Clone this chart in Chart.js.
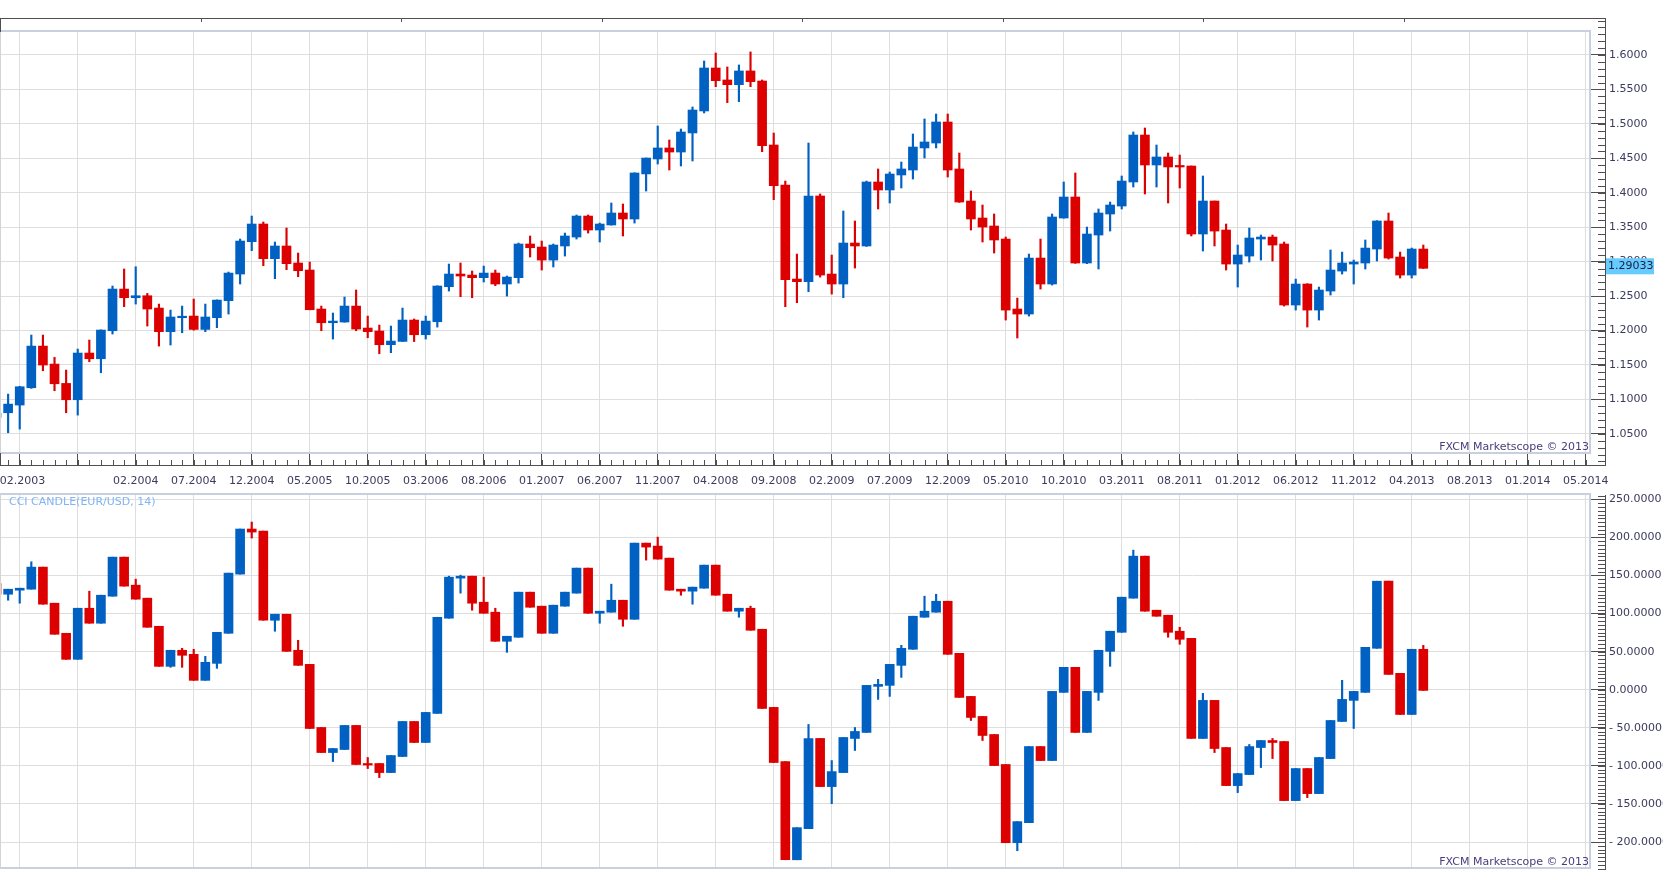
<!DOCTYPE html>
<html>
<head>
<meta charset="utf-8">
<title>EUR/USD monthly + CCI candle</title>
<script src="https://cdn.jsdelivr.net/npm/chart.js@4/dist/chart.umd.min.js"></script>
<style>
  body { margin: 0; background: #fff; overflow: hidden; }
  #wrap { position: relative; width: 1663px; height: 870px; }
  canvas { position: absolute; left: 0; }
</style>
</head>
<body>
<div id="wrap">
  <canvas id="priceChart" width="1663" height="490" style="top:0"></canvas>
  <canvas id="cciChart" width="1663" height="380" style="top:490px"></canvas>
</div>
<script>
// months, 02.2003 - 05.2013
var months = [
  '02.2003','03.2003','04.2003','05.2003','06.2003','07.2003','08.2003','09.2003','10.2003','11.2003','12.2003',
  '01.2004','02.2004','03.2004','04.2004','05.2004','06.2004','07.2004','08.2004','09.2004','10.2004','11.2004','12.2004',
  '01.2005','02.2005','03.2005','04.2005','05.2005','06.2005','07.2005','08.2005','09.2005','10.2005','11.2005','12.2005',
  '01.2006','02.2006','03.2006','04.2006','05.2006','06.2006','07.2006','08.2006','09.2006','10.2006','11.2006','12.2006',
  '01.2007','02.2007','03.2007','04.2007','05.2007','06.2007','07.2007','08.2007','09.2007','10.2007','11.2007','12.2007',
  '01.2008','02.2008','03.2008','04.2008','05.2008','06.2008','07.2008','08.2008','09.2008','10.2008','11.2008','12.2008',
  '01.2009','02.2009','03.2009','04.2009','05.2009','06.2009','07.2009','08.2009','09.2009','10.2009','11.2009','12.2009',
  '01.2010','02.2010','03.2010','04.2010','05.2010','06.2010','07.2010','08.2010','09.2010','10.2010','11.2010','12.2010',
  '01.2011','02.2011','03.2011','04.2011','05.2011','06.2011','07.2011','08.2011','09.2011','10.2011','11.2011','12.2011',
  '01.2012','02.2012','03.2012','04.2012','05.2012','06.2012','07.2012','08.2012','09.2012','10.2012','11.2012','12.2012',
  '01.2013','02.2013','03.2013','04.2013','05.2013'
];

// EUR/USD monthly OHLC
var priceOpen = [
  1.0740,1.0806,1.0918,1.1169,1.1774,1.1513,1.1232,1.0995,1.1673,1.1590,1.1997,
  1.2602,1.2476,1.2505,1.2326,1.1983,1.2186,1.2210,1.2016,1.2186,1.2433,1.2820,1.3290,
  1.3546,1.3043,1.3227,1.2980,1.2878,1.2312,1.2113,1.2123,1.2355,1.2036,1.1993,1.1794,
  1.1842,1.2152,1.1939,1.2128,1.2636,1.2820,1.2805,1.2767,1.2834,1.2675,1.2767,1.3256,
  1.3212,1.3023,1.3227,1.3357,1.3662,1.3459,1.3532,1.3706,1.3619,1.4273,1.4490,1.4650,
  1.4591,1.4868,1.5187,1.5811,1.5637,1.5569,1.5768,1.5622,1.4693,1.4112,1.2747,1.2709,
  1.3953,1.2820,1.2675,1.3270,1.3227,1.4156,1.4040,1.4258,1.4330,1.4650,1.4722,1.5027,
  1.4345,1.3880,1.3633,1.3517,1.3328,1.2312,1.2239,1.3052,1.2675,1.3633,1.3938,1.2980,
  1.3386,1.3691,1.3807,1.4156,1.4838,1.4403,1.4519,1.4393,1.4388,1.3401,1.3880,1.3459,
  1.2965,1.3081,1.3328,1.3357,1.3256,1.2370,1.2675,1.2297,1.2573,1.2863,1.2965,1.2980,
  1.3183,1.3590,1.3067,1.2805,1.3183
];
var priceHigh = [
  1.0930,1.1077,1.1190,1.1934,1.1934,1.1610,1.1426,1.1731,1.1862,1.2010,1.2646,
  1.2893,1.2926,1.2539,1.2384,1.2297,1.2355,1.2457,1.2384,1.2445,1.2849,1.3328,1.3662,
  1.3575,1.3285,1.3488,1.3125,1.2994,1.2355,1.2254,1.2486,1.2588,1.2210,1.2079,1.2065,
  1.2326,1.2167,1.2210,1.2650,1.2965,1.2980,1.2864,1.2936,1.2878,1.2791,1.3270,1.3372,
  1.3299,1.3256,1.3415,1.3677,1.3677,1.3560,1.3851,1.3837,1.4290,1.4505,1.4969,1.4766,
  1.4925,1.5245,1.5913,1.6029,1.5826,1.5855,1.6044,1.5637,1.4867,1.4170,1.3110,1.4722,
  1.3982,1.3096,1.3735,1.3590,1.4170,1.4345,1.4301,1.4446,1.4853,1.5071,1.5143,1.5143,
  1.4577,1.4025,1.3822,1.3691,1.3357,1.2471,1.3110,1.3328,1.3691,1.4156,1.4287,1.3502,
  1.3764,1.3865,1.4243,1.4882,1.4940,1.4693,1.4577,1.4548,1.4388,1.4243,1.3880,1.3546,
  1.3241,1.3488,1.3386,1.3386,1.3285,1.2747,1.2680,1.2631,1.3169,1.3139,1.3023,1.3314,
  1.3595,1.3706,1.3139,1.3197,1.3241
];
var priceLow = [
  1.0680,1.0516,1.0569,1.1160,1.1416,1.1126,1.0806,1.0772,1.1547,1.1387,1.1949,
  1.2346,1.2384,1.2065,1.1774,1.1789,1.1968,1.2005,1.1983,1.2041,1.2239,1.2675,1.3159,
  1.2941,1.2752,1.2883,1.2781,1.2300,1.1997,1.1876,1.2120,1.1997,1.1895,1.1663,1.1678,
  1.1840,1.1840,1.1876,1.2050,1.2573,1.2491,1.2476,1.2704,1.2651,1.2500,1.2689,1.3067,
  1.2878,1.2922,1.3081,1.3328,1.3415,1.3285,1.3530,1.3372,1.3560,1.4025,1.4417,1.4330,
  1.4388,1.4461,1.5158,1.5540,1.5308,1.5322,1.5540,1.4596,1.3899,1.2346,1.2404,1.2563,
  1.2776,1.2529,1.2476,1.2907,1.3220,1.3764,1.3851,1.4069,1.4199,1.4504,1.4650,1.4228,
  1.3860,1.3459,1.3285,1.3125,1.2152,1.1891,1.2210,1.2602,1.2660,1.3630,1.2975,1.2970,
  1.2893,1.3444,1.3764,1.4083,1.3982,1.4083,1.3851,1.4069,1.3372,1.3154,1.3227,1.2878,
  1.2631,1.2994,1.3023,1.3009,1.2355,1.2297,1.2050,1.2152,1.2515,1.2820,1.2675,1.2893,
  1.3009,1.3038,1.2762,1.2762,1.2900
];
var priceClose = [
  1.0800,1.0932,1.1184,1.1774,1.1499,1.1227,1.0995,1.1673,1.1590,1.2007,1.2602,
  1.2476,1.2505,1.2312,1.1983,1.2196,1.2206,1.2016,1.2196,1.2442,1.2834,1.3299,1.3546,
  1.3043,1.3227,1.2970,1.2868,1.2302,1.2113,1.2137,1.2355,1.2021,1.1983,1.1794,1.1847,
  1.2152,1.1939,1.2137,1.2646,1.2820,1.2791,1.2767,1.2834,1.2675,1.2776,1.3256,1.3202,
  1.3023,1.3241,1.3372,1.3662,1.3459,1.3546,1.3706,1.3619,1.4287,1.4504,1.4650,1.4591,
  1.4882,1.5201,1.5811,1.5627,1.5569,1.5768,1.5613,1.4683,1.4103,1.2738,1.2709,1.3953,
  1.2805,1.2675,1.3270,1.3227,1.4156,1.4040,1.4272,1.4345,1.4664,1.4737,1.5027,1.4330,
  1.3865,1.3619,1.3502,1.3314,1.2297,1.2239,1.3052,1.2675,1.3648,1.3938,1.2980,1.3401,
  1.3706,1.3822,1.4170,1.4838,1.4403,1.4519,1.4374,1.4374,1.3401,1.3880,1.3444,1.2965,
  1.3096,1.3343,1.3357,1.3241,1.2370,1.2675,1.2297,1.2588,1.2878,1.2980,1.2994,1.3197,
  1.3590,1.3052,1.2805,1.3183,1.29033
];

// CCI candle (EUR/USD, 14)
var cciOpen = [
  139.5,125.4,130.7,132.0,161.0,113.6,74.1,39.9,107.0,87.3,122.8,
  174.1,137.3,120.2,83.3,30.7,51.8,46.5,12.3,34.6,74.1,151.8,211.0,
  208.3,91.2,99.1,51.8,33.3,-49.6,-82.5,-78.5,-46.9,-96.9,-96.9,-108.8,
  -87.7,-41.7,-69.3,-31.1,93.9,146.5,149.1,114.9,101.8,63.6,68.9,128.1,
  109.7,74.1,109.7,126.8,159.7,100.4,101.8,117.5,92.5,192.5,188.6,172.8,
  132.0,129.4,133.3,163.6,125.4,103.1,107.0,79.4,-23.2,-94.3,-223.3,-182.5,
  -64.0,-127.2,-108.8,-64.0,-56.1,4.4,5.7,32.0,53.1,95.2,101.8,116.2,
  47.8,-8.8,-35.1,-58.8,-98.2,-200.9,-174.6,-74.6,-93.0,-3.5,29.4,-56.1,
  -3.5,50.4,75.4,120.2,175.4,104.4,97.8,76.8,67.5,-64.0,-14.0,-75.9,
  -125.9,-111.4,-75.9,-66.7,-68.0,-145.6,-103.5,-136.4,-90.4,-41.7,-14.0,-3.5,
  54.4,142.5,21.5,-32.5,53.1
];
var cciHigh = [
  139.5,132.0,133.3,168.0,161.0,113.6,74.1,107.0,129.4,124.1,174.1,
  174.1,145.2,120.2,83.3,51.8,54.4,53.1,43.9,75.4,153.1,211.0,220.2,
  208.3,99.1,99.1,64.9,33.3,-49.6,-77.2,-46.9,-46.9,-89.0,-96.9,-86.4,
  -41.7,-41.7,-29.8,95.2,149.1,150.4,149.1,147.8,107.0,70.2,128.1,128.1,
  109.7,111.0,128.1,159.7,159.7,103.1,138.6,117.5,192.5,192.5,200.4,172.8,
  132.0,134.7,163.6,163.6,125.4,107.0,109.7,79.4,-23.2,-94.3,-181.1,-45.6,
  -64.0,-93.0,-62.7,-49.6,5.7,13.6,33.3,58.3,96.5,122.8,125.4,116.2,
  47.8,-8.8,-35.1,-58.8,-98.2,-173.2,-74.6,-74.6,-2.2,29.4,29.4,-2.2,
  51.8,76.8,121.5,183.3,175.4,104.4,97.8,82.0,67.5,-4.8,-14.0,-75.9,
  -110.1,-71.9,-66.7,-64.0,-68.0,-103.5,-103.5,-89.0,-40.4,12.3,-2.2,55.7,
  142.5,142.5,21.5,53.1,58.3
];
var cciLow = [
  125.4,117.5,113.6,132.0,112.3,72.8,39.9,39.9,87.3,87.3,122.8,
  136.0,118.9,82.0,30.7,29.4,29.4,12.3,12.3,28.1,74.1,151.8,199.1,
  91.2,76.8,50.4,32.0,-50.9,-82.5,-94.3,-78.5,-98.2,-103.5,-115.4,-108.8,
  -87.7,-69.3,-69.3,-31.1,93.9,126.8,104.4,100.4,63.6,49.1,68.9,108.3,
  74.1,74.1,109.7,126.8,100.4,87.3,101.8,83.3,92.5,170.2,171.5,130.7,
  124.1,112.3,133.3,124.1,103.1,95.2,78.1,-24.6,-95.6,-223.3,-223.3,-182.5,
  -127.2,-149.6,-108.8,-79.8,-56.1,-12.7,-8.8,16.2,53.1,95.2,101.8,46.5,
  -10.1,-40.4,-66.7,-99.6,-200.9,-211.4,-174.6,-93.0,-93.0,-3.5,-56.1,-56.1,
  -14.0,30.7,75.4,120.2,103.1,96.5,68.9,59.7,-64.0,-64.0,-82.5,-125.9,
  -135.1,-111.4,-102.2,-90.4,-145.6,-145.6,-141.7,-136.4,-90.4,-41.7,-50.9,-3.5,
  54.4,20.2,-32.5,-32.5,-0.9
];
var cciClose = [
  125.4,132.0,133.3,161.0,112.3,72.8,39.9,107.0,87.3,124.1,174.1,
  136.0,118.9,82.0,30.7,51.8,45.2,12.3,36.0,75.4,153.1,211.0,207.0,
  91.2,99.1,50.4,32.0,-50.9,-82.5,-77.2,-46.9,-98.2,-98.2,-108.8,-86.4,
  -41.7,-69.3,-29.8,95.2,147.8,149.1,113.6,100.4,63.6,70.2,128.1,108.3,
  74.1,111.0,128.1,159.7,100.4,103.1,117.5,92.5,192.5,187.3,171.5,130.7,
  129.4,134.7,163.6,124.1,103.1,107.0,78.1,-24.6,-95.6,-223.3,-181.1,-64.0,
  -127.2,-107.5,-62.7,-54.8,5.7,7.0,33.3,54.4,96.5,103.1,116.2,46.5,
  -10.1,-36.4,-60.1,-99.6,-200.9,-173.2,-74.6,-93.0,-2.2,29.4,-56.1,-2.2,
  51.8,76.8,121.5,175.4,103.1,96.5,75.4,66.2,-64.0,-14.0,-77.2,-125.9,
  -110.1,-74.6,-66.7,-69.3,-145.6,-103.5,-136.4,-89.0,-40.4,-12.7,-2.2,55.7,
  142.5,20.2,-32.5,53.1,-0.9
];

// axis ticks
var priceTicks = [1.05, 1.10, 1.15, 1.20, 1.25, 1.30, 1.35, 1.40, 1.45, 1.50, 1.55, 1.60];
var cciTicks = [-200, -150, -100, -50, 0, 50, 100, 150, 200, 250];
var dateTickLabels = ['', '', '02.2004', '07.2004', '12.2004', '05.2005', '10.2005', '03.2006', '08.2006',
  '01.2007', '06.2007', '11.2007', '04.2008', '09.2008', '02.2009', '07.2009', '12.2009', '05.2010',
  '10.2010', '03.2011', '08.2011', '01.2012', '06.2012', '11.2012', '04.2013', '08.2013', '01.2014', '05.2014'];

var UP = '#0061c2';
var DOWN = '#dc0000';
var GRID = '#dedede';
var AXIS = '#4f4f4f';
var LABEL = '#3b3b5e';
var FONT = 'DejaVu Sans';

// x axis runs over month index (0 = 02.2003)
var X_MIN = 0.3, X_MAX = 137.37;
var FIRST_LABEL_POS = 2.24;   // where the "02.2003" label sits
var dateTickPos = dateTickLabels.map(function(l, k) { return 2 + 5 * k; });

Chart.defaults.font.family = FONT;
Chart.defaults.font.size = 11;
Chart.defaults.color = LABEL;

function candleData(o, h, l, c) {
  var bodies = [], wicks = [], colors = [];
  for (var i = 0; i < o.length; i++) {
    bodies.push({ x: i, y: [o[i], c[i]] });
    wicks.push({ x: i, y: [l[i], h[i]] });
    colors.push(c[i] >= o[i] ? UP : DOWN);
  }
  return [
    { label: 'body', data: bodies, backgroundColor: colors, barThickness: 9, minBarLength: 1.5, grouped: false, order: 0 },
    { label: 'wick', data: wicks, backgroundColor: colors, barThickness: 1.5, grouped: false, order: 1 }
  ];
}

function drawAxisFrame(chart, top, bottom, minorStep) {
  var ctx = chart.ctx, a = chart.chartArea, ys = chart.scales.y;
  var ax = 1605.5;
  ctx.save();
  // light plot border
  ctx.strokeStyle = '#c7d0dc';
  ctx.lineWidth = 2;
  ctx.beginPath();
  ctx.moveTo(a.left, a.top); ctx.lineTo(a.right, a.top);
  ctx.lineTo(a.right, a.bottom); ctx.lineTo(a.left, a.bottom);
  ctx.stroke();
  ctx.strokeStyle = '#d4d4d4';
  ctx.lineWidth = 1;
  ctx.beginPath(); ctx.moveTo(0.5, a.top); ctx.lineTo(0.5, a.bottom); ctx.stroke();
  // right axis line + minor ticks
  ctx.strokeStyle = AXIS;
  ctx.beginPath();
  ctx.moveTo(ax, top); ctx.lineTo(ax, bottom);
  var v0 = ys.getValueForPixel(bottom), v1 = ys.getValueForPixel(top);
  var start = Math.ceil(v0 / minorStep);
  for (var k = start; k * minorStep <= v1; k++) {
    var py = Math.round(ys.getPixelForValue(k * minorStep)) + 0.5;
    ctx.moveTo(1598, py); ctx.lineTo(ax, py);
  }
  ctx.stroke();
  ctx.restore();
}

function copyright(chart, y) {
  var ctx = chart.ctx;
  ctx.save();
  ctx.font = '11px ' + FONT;
  ctx.fillStyle = '#4a3c7a';
  ctx.textAlign = 'right';
  ctx.textBaseline = 'middle';
  ctx.fillText('FXCM Marketscope \u00a9 2013', 1589, y);
  ctx.restore();
}

var priceDecor = {
  id: 'priceDecor',
  afterDraw: function(chart) {
    var ctx = chart.ctx, xs = chart.scales.x, ys = chart.scales.y;
    drawAxisFrame(chart, 18, 466, 0.01);
    ctx.save();
    ctx.strokeStyle = AXIS;
    ctx.lineWidth = 1;
    ctx.beginPath();
    // navigator line on top
    ctx.moveTo(0, 18.5); ctx.lineTo(1605.5, 18.5);
    for (var x = 200.5; x < 1600; x += 200.5) {
      ctx.moveTo(Math.round(x) + 0.5, 18.5); ctx.lineTo(Math.round(x) + 0.5, 22);
    }
    ctx.moveTo(0.5, 18); ctx.lineTo(0.5, 32);
    ctx.moveTo(0.5, 453); ctx.lineTo(0.5, 466);
    // date axis line + month ticks
    ctx.moveTo(0, 465.5); ctx.lineTo(1605.5, 465.5);
    for (var i = 1; i <= 137; i++) {
      var px = Math.round(xs.getPixelForValue(i)) + 0.5;
      ctx.moveTo(px, 460); ctx.lineTo(px, 466);
    }
    ctx.stroke();

    // last price box
    var last = priceClose[priceClose.length - 1];
    var py = ys.getPixelForValue(last);
    ctx.fillStyle = '#66ccff';
    ctx.fillRect(1606, py - 10, 48, 16);
    ctx.fillStyle = '#1e1e3c';
    ctx.font = '11px ' + FONT;
    ctx.textBaseline = 'middle';
    ctx.textAlign = 'left';
    ctx.fillText(last.toFixed(5), 1608, py - 2);
    ctx.restore();
    copyright(chart, 447);
  }
};

var cciDecor = {
  id: 'cciDecor',
  afterDraw: function(chart) {
    var ctx = chart.ctx;
    drawAxisFrame(chart, 5, 380, 5);
    ctx.save();
    ctx.font = '11px ' + FONT;
    ctx.fillStyle = '#80b4f2';
    ctx.textBaseline = 'middle';
    ctx.fillText('CCI CANDLE(EUR/USD, 14)', 9, 12);
    ctx.restore();
    copyright(chart, 372);
  }
};

function hideFirst(color) {
  return function(c) {
    return c.tick && c.tick.value === FIRST_LABEL_POS ? 'rgba(0,0,0,0)' : color;
  };
}

function makeChart(id, datasets, opts) {
  return new Chart(document.getElementById(id), {
    type: 'bar',
    data: { datasets: datasets },
    options: {
      responsive: false,
      animation: false,
      devicePixelRatio: 1,
      layout: { padding: { top: opts.top, left: 0, right: 0, bottom: 0 } },
      plugins: { legend: { display: false }, tooltip: { enabled: false } },
      scales: {
        x: {
          type: 'linear',
          min: X_MIN,
          max: X_MAX,
          offset: false,
          border: { display: false },
          grid: {
            offset: false,
            color: hideFirst(GRID),
            tickColor: hideFirst(AXIS),
            drawTicks: opts.dates,
            tickLength: 13
          },
          ticks: {
            display: opts.dates,
            autoSkip: false,
            maxRotation: 0,
            minRotation: 0,
            padding: 9,
            color: LABEL,
            callback: function(v) {
              if (v === FIRST_LABEL_POS) return months[0];
              var k = dateTickPos.indexOf(v);
              return k >= 0 ? dateTickLabels[k] : '';
            }
          },
          afterBuildTicks: function(scale) {
            var t = dateTickPos.map(function(v) { return { value: v }; });
            if (opts.dates) t.unshift({ value: FIRST_LABEL_POS });
            scale.ticks = t;
          },
          afterFit: function(scale) {
            scale.height = opts.xHeight;
            scale.paddingLeft = 0;
            scale.paddingRight = 0;
          }
        },
        y: {
          type: 'linear',
          position: 'right',
          min: opts.yMin,
          max: opts.yMax,
          border: { display: false },
          grid: { color: GRID, tickColor: AXIS, tickLength: 15 },
          ticks: {
            padding: 4,
            color: LABEL,
            callback: opts.fmt
          },
          afterBuildTicks: function(scale) {
            scale.ticks = opts.ticks.map(function(v) { return { value: v }; });
          },
          afterFit: function(scale) {
            scale.width = 73;
            scale.paddingTop = 0;
            scale.paddingBottom = 0;
          }
        }
      }
    },
    plugins: [opts.decor]
  });
}

makeChart('priceChart', candleData(priceOpen, priceHigh, priceLow, priceClose), {
  top: 31, xHeight: 37, dates: true,
  yMin: 1.0222, yMax: 1.6348, ticks: priceTicks,
  fmt: function(v) { return v.toFixed(4); },
  decor: priceDecor
});

makeChart('cciChart', candleData(cciOpen, cciHigh, cciLow, cciClose), {
  top: 4, xHeight: 2, dates: false,
  yMin: -234.1, yMax: 257.0, ticks: cciTicks,
  fmt: function(v) { return v < 0 ? '- ' + Math.abs(v).toFixed(4) : v.toFixed(4); },
  decor: cciDecor
});
</script>
</body>
</html>
